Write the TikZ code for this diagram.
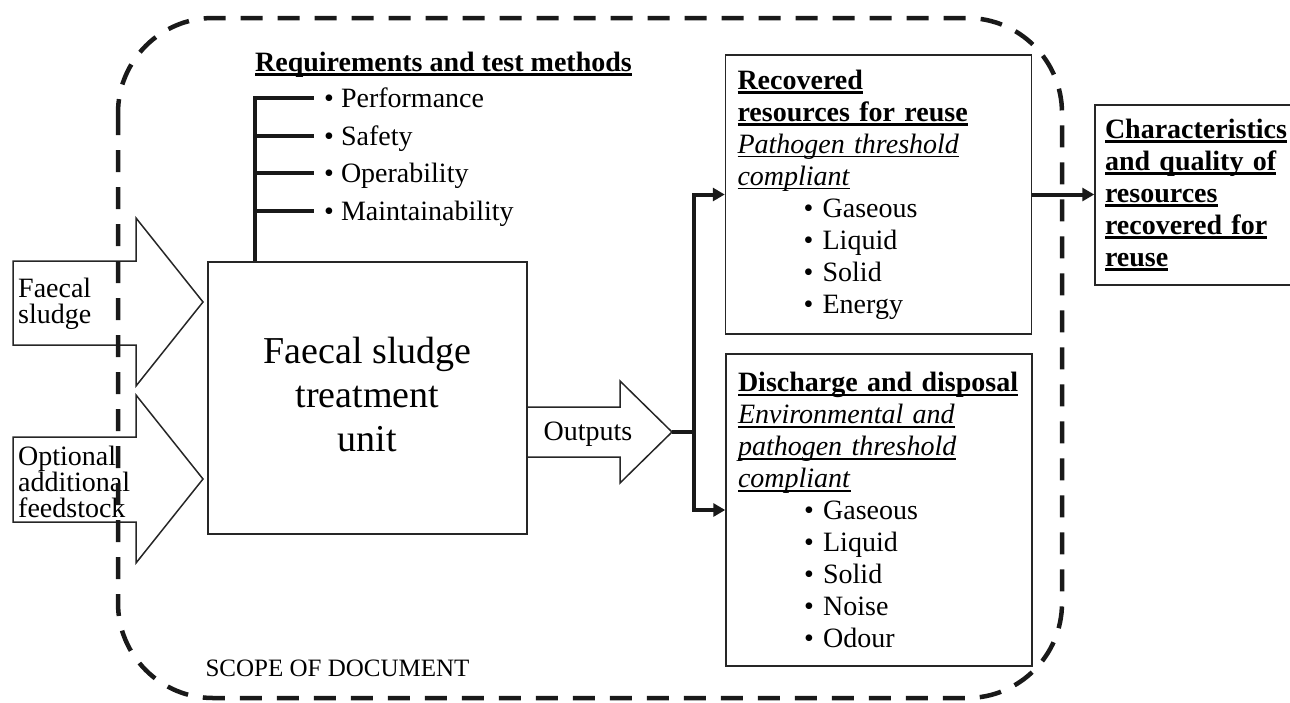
\documentclass[tikz,border=0pt]{standalone}
\usepackage{fontspec}
\setmainfont{Liberation Serif}
\usetikzlibrary{arrows.meta, positioning}
\newsavebox{\ulbox}
\newcommand{\ulbf}[1]{\leavevmode\sbox{\ulbox}{\textbf{#1}}\rlap{\rule[-4.5pt]{\wd\ulbox}{2.5pt}}\usebox{\ulbox}}
\newcommand{\ulit}[1]{\leavevmode\sbox{\ulbox}{\textit{#1}}\rlap{\rule[-4pt]{\wd\ulbox}{1.5pt}}\usebox{\ulbox}}

\begin{document}
\begin{tikzpicture}[
        x=1pt, y=-1pt,
        box/.style={rectangle, draw=black!85, line width=1.5pt, inner sep=0pt},
        infobox/.style={box, align=left, text width=282pt, inner xsep=12pt, font=\fontsize{28}{32}\selectfont},
        arrowtext/.style={align=left, inner sep=0pt, font=\fontsize{28}{26}\selectfont},
        itemtext/.style={inner sep=0pt, font=\fontsize{28}{32}\selectfont},
        blockarrow/.style={draw=black!85, line width=1.5pt, line join=miter},
        conn/.style={draw=black!90, line width=4pt},
        tip/.style={-{Triangle[length=12pt, width=13pt]}},
        scopeline/.style={draw=black!90, line width=4.5pt, dash pattern=on 22pt off 15pt, rounded corners=95pt}
    ]
        \useasboundingbox (0,0) rectangle (1290,702);

        % treatment unit and its inputs
        \node[box, minimum width=319pt, minimum height=272pt] (fsunit) at (367.5,398) {};
        \node[align=center, inner sep=0pt, font=\fontsize{38}{44}\selectfont] (fslabel) at ([yshift=4pt]fsunit.center) {Faecal sludge\\treatment\\unit};

        \draw[blockarrow] (13,261) -- (136,261) -- (136,218) -- (203,302) -- (136,386) -- (136,345) -- (13,345) -- cycle;
        \node[arrowtext, anchor=west] (sludge) at (18,304) {Faecal\\sludge};
        \draw[blockarrow] (13,437) -- (136,437) -- (136,395) -- (203,479) -- (136,563) -- (136,522) -- (13,522) -- cycle;
        \node[arrowtext, anchor=west] (feedstock) at (18,482) {Optional\\additional\\feedstock};

        % requirements
        \node[itemtext, anchor=base] (reqtitle) at (443.5,71) {\ulbf{Requirements and test methods}};
        \coordinate (brk) at (255,98);
        \draw[conn] (fsunit.north -| brk) -- (brk) -- ++(59,0);
        \foreach \y/\txt [count=\i] in {98/Performance, 136/Safety, 173/Operability, 211/Maintainability} {
            \ifnum\i>1 \draw[conn] (255,\y) -- (314,\y); \fi
            \node[itemtext, anchor=base west] (req\i) at (324,\y+9) {\textbullet\ \txt};
        }

        % outputs
        \draw[blockarrow] (527,407) -- (620,407) -- (620,381) -- (672,432) -- (620,483) -- (620,457) -- (527,457);
        \node[itemtext] (outputs) at (588,434) {Outputs};
        \coordinate (otip) at (672,432);
        \coordinate (split) at (694,432);

        \node[infobox, minimum height=279pt] (recovered) at (878.5,194.5) {%
            \ulbf{Recovered}\\
            \ulbf{resources for reuse}\\
            \ulit{Pathogen threshold}\\
            \ulit{compliant}\\
            \hspace*{66pt}\textbullet\ Gaseous\\
            \hspace*{66pt}\textbullet\ Liquid\\
            \hspace*{66pt}\textbullet\ Solid\\
            \hspace*{66pt}\textbullet\ Energy};
        \node[infobox, minimum height=312pt] (discharge) at (879,510) {%
            \ulbf{Discharge and disposal}\\
            \ulit{Environmental and}\\
            \ulit{pathogen threshold}\\
            \ulit{compliant}\\
            \hspace*{66pt}\textbullet\ Gaseous\\
            \hspace*{66pt}\textbullet\ Liquid\\
            \hspace*{66pt}\textbullet\ Solid\\
            \hspace*{66pt}\textbullet\ Noise\\
            \hspace*{66pt}\textbullet\ Odour};
        \node[box, align=left, text width=188pt, inner xsep=10pt, minimum height=180pt, font=\fontsize{28}{32}\selectfont] (quality) at (1199,195) {%
            \ulbf{Characteristics}\\
            \ulbf{and quality of}\\
            \ulbf{resources}\\
            \ulbf{recovered for}\\
            \ulbf{reuse}};

        \draw[conn] (otip) -- (split);
        \draw[conn, tip] (split) |- (recovered.west);
        \draw[conn, tip] (split) |- (discharge.west);
        \draw[conn, tip] (recovered.east) -- (recovered.east -| quality.west);

        % scope boundary
        \draw[scopeline] (118,18) rectangle (1062,698);
        \node[itemtext, font=\fontsize{25}{30}\selectfont] (scope) at (337.5,668) {SCOPE OF DOCUMENT};
    \end{tikzpicture}
\end{document}
